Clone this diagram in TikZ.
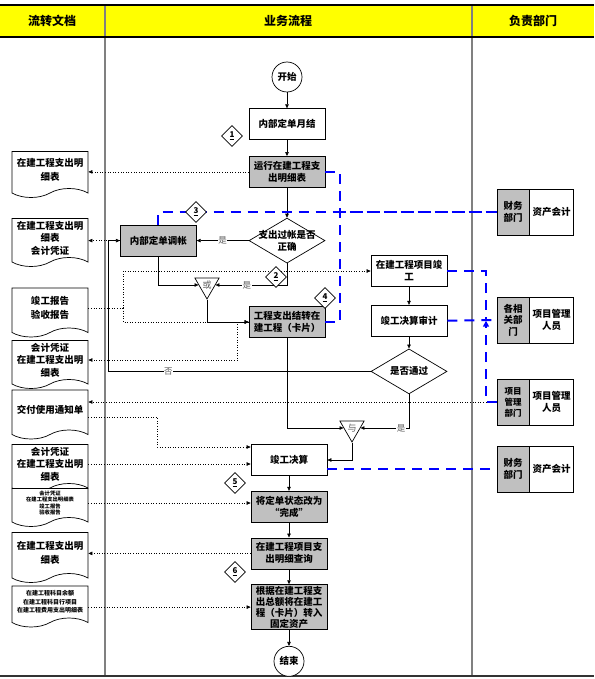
\documentclass[tikz,border=0pt]{standalone}
\usepackage{fontspec}
\setmainfont{Noto Sans CJK SC}
\usepackage{tikz}
\usetikzlibrary{arrows.meta, positioning, shapes.geometric, shapes.symbols}
\definecolor{HeadYellow}{RGB}{255, 255, 0}
\definecolor{LaneGray}{RGB}{128, 128, 128}
\definecolor{BoxGray}{RGB}{192, 192, 192}
\definecolor{FlowBlue}{RGB}{0, 0, 255}
\definecolor{LabelGray}{RGB}{90, 90, 90}
\tikzset{
  proc/.style={rectangle, draw=black, fill=#1, line width=0.7pt,
               minimum width=76pt, minimum height=31pt, text width=72pt, inner sep=1pt,
               font=\fontsize{9.5}{12}\selectfont\bfseries, align=center},
  proc/.default=white,
  term/.style={circle, draw=black, fill=white, line width=0.7pt,
               minimum size=30pt, inner sep=0pt,
               font=\fontsize{9.5}{12}\selectfont\bfseries},
  decide/.style={diamond, draw=black, fill=white, line width=0.7pt,
                 minimum width=76pt, minimum height=45pt, inner sep=0pt},
  dtext/.style={font=\fontsize{9.5}{12}\selectfont\bfseries, align=center, inner sep=0pt},
  gate/.style={regular polygon, regular polygon sides=3, shape border rotate=180,
               draw=black, fill=white, line width=0.7pt, minimum size=28pt, inner sep=0pt,
               font=\fontsize{9}{10}\selectfont, text=LabelGray},
  numd/.style={diamond, draw=black, fill=white, line width=0.6pt,
               minimum size=21pt, inner sep=0pt, font=\fontsize{8}{8}\selectfont\bfseries},
  docbox/.style={tape, tape bend top=none, tape bend bottom=in and out, tape bend height=9pt,
                 draw=black, fill=white, line width=0.7pt, minimum width=76pt, minimum height=#1,
                 text width=72pt, inner sep=1pt, align=center,
                 font=\fontsize{9.5}{14}\selectfont\bfseries},
  deptname/.style={rectangle, draw=black, fill=BoxGray, line width=0.7pt,
                   minimum width=32pt, minimum height=46pt, inner sep=0pt, align=center,
                   font=\fontsize{9.5}{11.5}\selectfont\bfseries},
  deptrole/.style={rectangle, draw=black, fill=white, line width=0.7pt,
                   minimum width=44pt, minimum height=46pt, inner sep=0pt, align=center,
                   font=\fontsize{9.5}{12}\selectfont\bfseries},
  headtxt/.style={font=\fontsize{12}{14}\selectfont\bfseries},
  lbl/.style={fill=white, inner sep=0.5pt, font=\fontsize{8.5}{9}\selectfont, text=LabelGray},
  arr/.style={-{Triangle[length=4pt, width=3.5pt]}, line width=0.6pt},
  dotarr/.style={dotted, line width=0.6pt, -{Triangle[length=4pt, width=3.5pt]}},
  dotline/.style={dotted, line width=0.6pt},
  bluedash/.style={FlowBlue, line width=2pt, dash pattern=on 10pt off 7pt},
}
\begin{document}
\begin{tikzpicture}[x=1pt, y=-1pt, node distance=15pt]
  \useasboundingbox (0,0) rectangle (594,679);

  %% HEADER AND LANES
  \fill[HeadYellow] (0,5) rectangle (594,37);
  \draw[LaneGray, line width=1.4pt] (105,5) -- (105,676) (472,5) -- (472,676);
  \draw[line width=1.2pt] (0,5) -- (594,5) (0,37) -- (594,37);
  \draw[line width=1.2pt, black!80] (0,676) -- (594,676);
  \node[headtxt] (hdoc)  at (52,21)  {流转文档};
  \node[headtxt] (hflow) at (288,21) {业务流程};
  \node[headtxt] (hdept) at (533,21) {负责部门};

  %% MAIN FLOW
  \node[term] (start) at (287,77) {开始};
  \node[proc, below=16pt of start] (monthly) {内部定单月结};
  \node[proc=BoxGray, below=16pt of monthly] (runrep) {运行在建工程支\\出明细表};
  \node[decide, below=30pt of runrep, label={[dtext]center:支出过帐是否\\正确}] (chk) {};
  \node[proc=BoxGray, left=52pt of chk] (adj) {内部定单调帐};
  \node[gate] (orgate) at (207,285) {或};
  \node[proc=BoxGray] (card) at (287,322) {工程支出结转在\\建工程（卡片）};

  \draw[arr] (start) -- (monthly);
  \draw[arr] (monthly) -- (runrep);
  \draw[arr] (runrep) -- (chk);
  \draw[arr] (chk.west) -- node[lbl] {是} (adj.east);
  \draw[arr] (adj.south) |- (orgate.west);
  \draw[arr] (chk.south) |- node[lbl, pos=0.78] {是} (orgate.east);
  \draw[arr] (orgate.south) |- (card.west);

  %% COMPLETION BRANCH
  \node[proc] (proj) at (409,271) {在建工程项目竣\\工};
  \node[proc, below=18pt of proj] (audit) {竣工决算审计};
  \node[decide, below=12pt of audit, label={[dtext]center:是否通过}] (pass) {};
  \node[gate] (andgate) at (352,428) {与};
  \node[proc] (final) at (289,460) {竣工决算};
  \node[proc=BoxGray, below=15pt of final] (done) {将定单状态改为\\“完成”};
  \node[proc=BoxGray, below=15pt of done] (query) {在建工程项目支\\出明细查询};
  \node[proc=BoxGray, below=15pt of query, minimum height=45pt, font=\fontsize{9.5}{11}\selectfont\bfseries]
       (transfer) {根据在建工程支\\出总额将在建工\\程（卡片）转入\\固定资产};
  \node[term, below=16pt of transfer] (stop) {结束};
  \coordinate (nox) at (108,0);

  \draw[arr] (proj) -- (audit);
  \draw[arr] (audit) -- (pass);
  \draw[arr] (pass.west) -- node[lbl, pos=0.77] {否} (pass.west -| nox) |- (adj.west);
  \draw[arr] (card.south) |- (andgate.west);
  \draw[arr] (pass.south) |- node[lbl, pos=0.58] {是} (andgate.east);
  \draw[arr] (andgate.south) |- (final.east);
  \draw[arr] (final) -- (done);
  \draw[arr] (done) -- (query);
  \draw[arr] (query) -- (transfer);
  \draw[arr] (transfer) -- (stop);

  %% DOCUMENTS
  \node[docbox=46pt] (doc1) at (50,170) {在建工程支出明\\细表};
  \node[docbox=48pt, font=\fontsize{9.5}{12.5}\selectfont\bfseries] (doc2) at (50,238) {在建工程支出明\\细表\\会计凭证};
  \node[docbox=49pt] (doc3) at (50,308) {竣工报告\\验收报告};
  \node[docbox=48pt, font=\fontsize{9.5}{12.5}\selectfont\bfseries] (doc4) at (50,360) {会计凭证\\在建工程支出明\\细表};
  \node[docbox=49pt] (doc5) at (50,410) {交付使用通知单};
  \node[docbox=48pt, font=\fontsize{9.5}{12.5}\selectfont\bfseries] (doc6) at (50,464) {会计凭证\\在建工程支出明\\细表};
  \node[docbox=38pt, font=\fontsize{5.3}{6.6}\selectfont\bfseries] (doc7) at (50,503) {会计凭证\\在建工程支出明细表\\竣工报告\\验收报告};
  \node[docbox=50pt] (doc8) at (50,553) {在建工程支出明\\细表};
  \node[docbox=41pt, font=\fontsize{6}{8.5}\selectfont\bfseries] (doc9) at (50,602) {在建工程科目余额\\在建工程科目行项目\\在建工程费用支出明细表};
  \coordinate (dj) at (123,308);

  \draw[dotarr] (runrep.west) -- (runrep.west -| doc1.east);
  \draw[dotarr] (adj.west) -- (adj.west -| doc2.east);
  \draw[dotline] (doc3.east) -- (dj);
  \draw[dotarr] (dj) |- (proj.west);
  \draw[dotarr] (dj) |- (card.west);
  \draw[dotarr] (card.west) -- ++(-11pt,0) |- (doc4.east);
  \draw[dotarr] ([yshift=-7pt]doc5.east) -- ++(69pt,0) |- ([yshift=13pt]final.west);
  \draw[dotarr] (doc6.east) -- (doc6.east -| final.west);
  \draw[dotarr] (doc7.east) -- (doc7.east -| done.west);
  \draw[dotarr] (query.west) -- (query.west -| doc8.east);
  \draw[dotarr] (doc9.east |- transfer.west) -- (transfer.west);

  %% DEPARTMENTS
  \node[deptname] (dn1) at (513,212) {财务\\部门};
  \node[deptrole, right=0pt of dn1] (dr1) {资产会计};
  \node[deptname] (dn2) at (513,320) {各相\\关部\\门};
  \node[deptrole, right=0pt of dn2] (dr2) {项目管理\\人员};
  \node[deptname, font=\fontsize{8.5}{11}\selectfont\bfseries] (dn3) at (513,402) {项目\\管理\\部门};
  \node[deptrole, right=0pt of dn3] (dr3) {项目管理\\人员};
  \node[deptname] (dn4) at (513,469) {财务\\部门};
  \node[deptrole, right=0pt of dn4] (dr4) {资产会计};

  \draw[dotarr] (dn3.west) -- (dn3.west -| doc5.east);

  %% RESPONSIBILITY LINKS
  \coordinate (bx) at (340,0);
  \coordinate (bj) at (486,271);
  \draw[bluedash] (runrep.east) -- (runrep.east -| bx) |- (dn1.west);
  \draw[bluedash] (adj.north) |- (dn1.west);
  \draw[bluedash] (card.east) -- (card.east -| bx) |- (dn1.west);
  \draw[bluedash] (proj.east) -- (bj) -- (bj |- audit.east);
  \draw[bluedash] (audit.east) -- (dn2.west);
  \draw[bluedash, -{Triangle[length=6pt, width=6pt]}] (dn3.west) -| (bj |- audit.east);
  \draw[bluedash] (final.east |- dn4.west) -- (dn4.west);

  %% STEP MARKS
  \node[numd] (n1) at (232,136) {\underline{1}};
  \node[numd] (n2) at (276,277) {\underline{2}};
  \node[numd] (n3) at (196,212) {\underline{3}};
  \node[numd] (n4) at (325,298) {\underline{4}};
  \node[numd] (n5) at (235,483) {\underline{5}};
  \node[numd] (n6) at (235,572) {\underline{6}};

\end{tikzpicture}
\end{document}
